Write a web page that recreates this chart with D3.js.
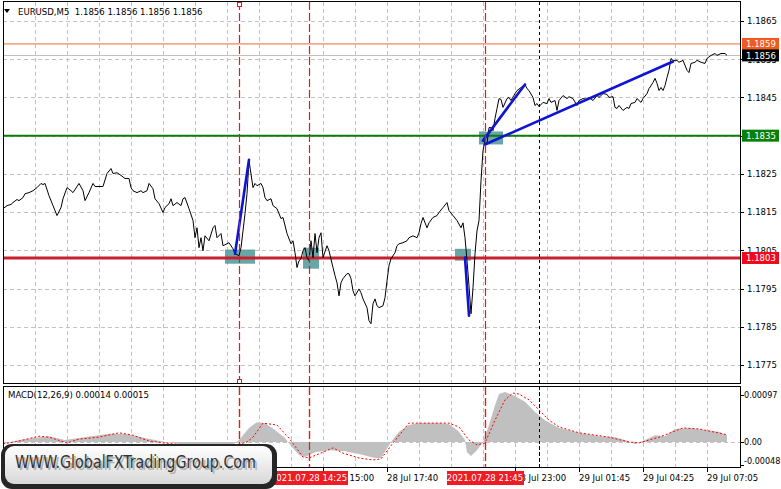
<!DOCTYPE html>
<html><head><meta charset="utf-8">
<script src="https://cdn.jsdelivr.net/npm/d3@7"></script>
<style>
body{margin:0;background:#fff}
svg{display:block}
text{font-family:"DejaVu Sans Condensed","DejaVu Sans",sans-serif}
</style>
</head><body><svg id="c" width="781" height="489"></svg>
<script>
// ---------------- DATA ----------------
const symbol = "EURUSD,M5";
const ohlc = [1.1856, 1.1856, 1.1856, 1.1856];

const priceBars = [0,2,4,5,7,8,10,11,13,15,17,19,20,21,23,25,27,29,30,32,34,35,38,40,41,43,45,46,50,52,54,55,57,59,61,63,64,65,67,69,70,72,73,75,76,78,80,81,83,84,85,87,89,90,91,93,95,96,97,98,99,100,101,103,105,106,107,109,110,113,115,116,118,119,120,121,122,123,125,126,127,129,130,131,132,134,135,137,139,140,142,144,145,146,147,148,149,150,151,152,153,154,155,156,157,158,159,160,162,163,165,166,167,168,169,170,172,173,174,175,176,178,179,180,182,183,184,185,186,187,188,190,191,192,193,194,196,197,198,200,202,203,205,207,208,209,210,212,213,215,217,218,220,222,223,225,227,229,230,231,232,233,234,235,236,237,238,239,240,241,242,243,244,245,246,247,248,249,250,252,253,254,256,257,259,261,262,263,265,266,267,268,270,272,273,274,276,277,278,280,282,283,285,287,288,290,292,293,295,297,298,300,302,303,305,306,307,308,310,312,313,314,316,317,319,320,322,323,325,326,327,328,329,330,331,332,333,334,335,337,338,340,342,343,344,346,347,349,351,352,354,356,357,359,361,362];
const priceCloses = [1.18159,1.18167,1.18170,1.18175,1.18183,1.18180,1.18188,1.18198,1.18201,1.18206,1.18214,1.18225,1.18222,1.18225,1.18193,1.18167,1.18141,1.18162,1.18185,1.18214,1.18206,1.18201,1.18225,1.18206,1.18180,1.18201,1.18225,1.18217,1.18217,1.18251,1.18264,1.18251,1.18253,1.18246,1.18238,1.18238,1.18214,1.18206,1.18201,1.18206,1.18201,1.18206,1.18225,1.18211,1.18185,1.18172,1.18149,1.18162,1.18172,1.18185,1.18167,1.18175,1.18167,1.18185,1.18188,1.18159,1.18128,1.18083,1.18109,1.18057,1.18083,1.18049,1.18088,1.18075,1.18109,1.18115,1.18083,1.18094,1.18062,1.18070,1.18054,1.18041,1.18036,1.18057,1.18101,1.18146,1.18198,1.18285,1.18214,1.18225,1.18219,1.18225,1.18214,1.18188,1.18180,1.18185,1.18167,1.18159,1.18133,1.18136,1.18094,1.18067,1.18075,1.18044,1.18005,1.18023,1.18028,1.18049,1.18057,1.18031,1.18023,1.18075,1.18031,1.18094,1.18044,1.18083,1.18096,1.18031,1.18062,1.18049,1.18005,1.17984,1.17965,1.17931,1.17965,1.17976,1.17989,1.17989,1.17976,1.17944,1.17931,1.17949,1.17939,1.17923,1.17900,1.17866,1.17858,1.17910,1.17923,1.17905,1.17900,1.17905,1.17926,1.17970,1.18010,1.18028,1.18044,1.18062,1.18067,1.18070,1.18075,1.18083,1.18088,1.18083,1.18096,1.18120,1.18136,1.18109,1.18122,1.18136,1.18141,1.18149,1.18162,1.18175,1.18154,1.18141,1.18128,1.18109,1.18122,1.18083,1.18023,1.17957,1.17884,1.17952,1.18041,1.18101,1.18128,1.18232,1.18311,1.18337,1.18329,1.18371,1.18371,1.18363,1.18395,1.18421,1.18447,1.18445,1.18424,1.18447,1.18450,1.18442,1.18460,1.18468,1.18476,1.18484,1.18473,1.18468,1.18450,1.18429,1.18434,1.18426,1.18437,1.18434,1.18447,1.18437,1.18442,1.18416,1.18442,1.18455,1.18447,1.18452,1.18447,1.18429,1.18442,1.18447,1.18445,1.18450,1.18442,1.18455,1.18450,1.18460,1.18458,1.18450,1.18452,1.18424,1.18421,1.18429,1.18416,1.18424,1.18421,1.18434,1.18437,1.18447,1.18437,1.18447,1.18460,1.18473,1.18489,1.18500,1.18487,1.18468,1.18476,1.18468,1.18481,1.18502,1.18521,1.18552,1.18547,1.18547,1.18542,1.18547,1.18521,1.18515,1.18539,1.18542,1.18547,1.18542,1.18539,1.18552,1.18560,1.18565,1.18560,1.18565,1.18565,1.18560];

const priceTicks = [1.1865,1.1855,1.1845,1.1835,1.1825,1.1815,1.1805,1.1795,1.1785,1.1775];
// time labels that are visible (the earlier ones lie under the watermark)
const timeTickBars = [160,192,256,288,320,352];
const timeTickLabels = ["28 Jul 15:00","28 Jul 17:40","28 Jul 23:00","29 Jul 01:45","29 Jul 04:25","29 Jul 07:05"];

const levelPrices = [1.1859, 1.1835, 1.1803];   // orange, green, red horizontal lines
const bidPrice = 1.1856;

const vLineBars = [118, 153, 241];
const vLabelBars = [153, 241];
const vLineLabels = ["2021.07.28 14:25","2021.07.28 21:45"];
const separatorBars = [268];

const trendStartBar = [116, 240, 241, 231];
const trendStartPrice = [1.18041, 1.18337, 1.18327, 1.18031];
const trendEndBar = [123, 261, 335, 233];
const trendEndPrice = [1.18287, 1.18484, 1.18544, 1.17879];

const boxStartBar = [111, 150, 226, 238];
const boxEndBar = [126, 158, 234, 250];
const boxHigh = [1.18052, 1.18057, 1.18054, 1.18361];
const boxLow = [1.18015, 1.18002, 1.18023, 1.18327];

const macdBars = [0,8,18,23,31,38,53,61,71,81,93,106,114,118,123,127,131,136,141,144,148,151,156,163,171,178,186,189,194,198,203,208,218,223,228,231,232,234,237,240,243,246,248,251,256,261,266,271,278,288,298,306,311,316,321,326,331,336,343,351,358,362];
const macdHist = [-0.00004,0.00004,0.0001,0.00012,0.00004,0.00008,0.00017,0.00017,0.00008,0,-0.00006,-0.0001,-0.00008,0.00004,0.00029,0.00041,0.00039,0.00025,0.00008,-0.00008,-0.00027,-0.00031,-0.00021,-0.00017,-0.00019,-0.00025,-0.00033,-0.00033,0,0.00021,0.00035,0.00039,0.00039,0.00037,0.00021,0.00004,-0.00021,-0.00029,-0.00017,0,0.00035,0.00076,0.00099,0.00103,0.00095,0.00083,0.00062,0.00045,0.00029,0.00019,0.00012,0.0001,0.00004,-0.00004,0.00004,0.00014,0.00012,0.00027,0.00029,0.00025,0.00021,0.00014];
const signalBars = [0,8,18,23,32,38,48,58,65,73,85,100,115,122,125,130,137,143,150,153,160,165,170,178,185,189,195,203,223,228,233,237,241,246,251,255,258,263,268,273,278,288,303,313,318,328,340,348,362];
const signalVals = [-0.00004,0.00002,0.00012,0.0001,-0.00002,0.00006,0.0001,0.00019,0.00014,0.00002,-0.00004,-0.00008,-0.00008,0,0.0001,0.00039,0.00035,0.00008,-0.00031,-0.00033,-0.00021,-0.00012,-0.00023,-0.00033,-0.00037,-0.00035,-0.00002,0.00039,0.00039,0.00031,0.00004,-0.00006,-0.00002,0.00045,0.00087,0.00101,0.00099,0.00087,0.00066,0.00045,0.00031,0.00019,0.0001,0,-0.00002,0.0001,0.00029,0.00027,0.00015];
const macdTicks = [0.00097, 0, -0.00048];
const macdTickLabels = ["0.00097","0.00","-0.00048"];
const macdTitle = "MACD(12,26,9) 0.00014 0.00015";
const watermark = "WWW.GlobalFXTradingGroup.Com";

// ---------------- DRAW ----------------
const svg = d3.select("#c");
const W = 781, H = 489;
const L = 3, R = 740, T = 2, B = 383, MT = 387, MB = 468;

const x = d3.scaleLinear().domain([0, 362]).range([3, 727]);
const y = d3.scaleLinear().domain([1.1775, 1.1865]).range([365, 21]);
const my = d3.scaleLinear().domain([0, 0.00097]).range([442, 395]);
const px = d => Math.round(x(d)) + 0.5;

svg.append("rect").attr("width", W).attr("height", H).attr("fill", "#fff");

const defs = svg.append("defs");
defs.append("clipPath").attr("id","cm").append("rect").attr("x",L).attr("y",T).attr("width",R-L).attr("height",B-T);
defs.append("clipPath").attr("id","cs").append("rect").attr("x",L).attr("y",MT).attr("width",R-L).attr("height",MB-MT);

const gridColor = "#c3c3c3";
const gridBars = d3.range(16, 363, 16);
const redV = "#e41a1a";
const redW = 1.2;

// main grid
const gm = svg.append("g").attr("clip-path","url(#cm)");
gm.selectAll("line.hg").data(priceTicks).join("line").attr("class","hg")
  .attr("x1", L).attr("x2", R).attr("y1", d => Math.round(y(d)) + 0.5).attr("y2", d => Math.round(y(d)) + 0.5)
  .attr("stroke", gridColor).attr("stroke-dasharray", "4,3");
gm.selectAll("line.vg").data(gridBars).join("line").attr("class","vg")
  .attr("x1", px).attr("x2", px).attr("y1", T).attr("y2", B)
  .attr("stroke", gridColor).attr("stroke-dasharray", "4,3");

// boxes
gm.selectAll("rect.box").data(boxStartBar).join("rect").attr("class","box")
  .attr("x", d => x(d)).attr("width", (d,i) => x(boxEndBar[i]) - x(d))
  .attr("y", (d,i) => y(boxHigh[i])).attr("height", (d,i) => y(boxLow[i]) - y(boxHigh[i]))
  .attr("fill", "#4f9696").attr("opacity", 0.85);

// bid line
gm.append("line").attr("x1", L).attr("x2", R).attr("y1", Math.round(y(bidPrice)) + 0.5).attr("y2", Math.round(y(bidPrice)) + 0.5)
  .attr("stroke", "#c0c0c0");

// level lines
const levelColors = ["#ee6a2a", "#0a7d0a", "#c8202e"];
const levelWidths = [1, 2, 3];
gm.selectAll("line.lv").data(levelPrices).join("line").attr("class","lv")
  .attr("x1", L).attr("x2", R).attr("y1", d => y(d)).attr("y2", d => y(d))
  .attr("stroke", (d,i) => levelColors[i]).attr("stroke-width", (d,i) => levelWidths[i]);

// vertical red lines and day separator (span both panels)
const vg = svg.append("g");
vg.selectAll("line.vr").data(vLineBars).join("line").attr("class","vr")
  .attr("x1", px).attr("x2", px).attr("y1", T).attr("y2", MB)
  .attr("stroke", redV).attr("stroke-width", redW).attr("stroke-dasharray", "8,3");
vg.selectAll("line.sep").data(separatorBars).join("line").attr("class","sep")
  .attr("x1", px).attr("x2", px).attr("y1", T).attr("y2", MB)
  .attr("stroke", "#000").attr("stroke-dasharray", "3,3");
vg.selectAll("rect.mk").data([2.5, 379.5]).join("rect").attr("class","mk")
  .attr("x", Math.round(x(vLineBars[0])) - 1.5).attr("y", d => d).attr("width", 4).attr("height", 4)
  .attr("fill", "#fff").attr("stroke", redV);

// price line
const pts = priceBars.map((b,i) => [b, priceCloses[i]]);
gm.append("path").datum(pts)
  .attr("d", d3.line().x(d => x(d[0])).y(d => y(d[1])))
  .attr("fill", "none").attr("stroke", "#000").attr("stroke-width", 1);

// trend lines
gm.selectAll("line.tr").data(trendStartBar).join("line").attr("class","tr")
  .attr("x1", d => x(d)).attr("y1", (d,i) => y(trendStartPrice[i]))
  .attr("x2", (d,i) => x(trendEndBar[i])).attr("y2", (d,i) => y(trendEndPrice[i]))
  .attr("stroke", "#0e14d2").attr("stroke-width", 2.6).attr("stroke-linecap", "round");

// main frame
svg.append("rect").attr("x", L + 0.5).attr("y", T - 0.5).attr("width", R - L).attr("height", B - T + 1)
  .attr("fill", "none").attr("stroke", "#000");

// header
svg.append("path").attr("d", "M4,9 L10,9 L7,13 Z").attr("fill", "#000");
svg.append("text").attr("x", 18).attr("y", 15).attr("font-size", 9.5).attr("fill", "#000")
  .attr("xml:space", "preserve")
  .text(symbol + "  " + ohlc.map(v => v.toFixed(4)).join(" "));

// right price axis
const ax = svg.append("g");
ax.selectAll("line.tk").data(priceTicks).join("line").attr("class","tk")
  .attr("x1", R).attr("x2", R + 4).attr("y1", d => Math.round(y(d)) + 0.5).attr("y2", d => Math.round(y(d)) + 0.5)
  .attr("stroke", "#000");
ax.selectAll("text.tk").data(priceTicks).join("text").attr("class","tk")
  .attr("x", 747).attr("y", d => y(d)).attr("dy", "0.35em").attr("font-size", 9.5).attr("fill", "#000")
  .text(d => d.toFixed(4));

// price labels
const labelVals = [levelPrices[0], bidPrice, levelPrices[1], levelPrices[2]];
const labelFill = ["#f05a1e", "#000", "#0a800a", "#ee0a1a"];
const lg = ax.selectAll("g.lab").data(labelVals).join("g").attr("class","lab");
lg.append("rect").attr("x", 742).attr("width", 37).attr("y", d => y(d) - 6).attr("height", 12)
  .attr("fill", (d,i) => labelFill[i]);
lg.append("text").attr("x", 746).attr("y", d => y(d)).attr("dy", "0.35em").attr("font-size", 9.5).attr("fill", "#fff")
  .text(d => d.toFixed(4));

// ---------- MACD panel ----------
const gs = svg.append("g").attr("clip-path", "url(#cs)");
gs.selectAll("line.vg").data(gridBars).join("line").attr("class","vg")
  .attr("x1", px).attr("x2", px).attr("y1", MT).attr("y2", MB)
  .attr("stroke", gridColor).attr("stroke-dasharray", "4,3");
gs.append("line").attr("x1", L).attr("x2", R).attr("y1", Math.round(my(0)) + 0.5).attr("y2", Math.round(my(0)) + 0.5)
  .attr("stroke", gridColor).attr("stroke-dasharray", "4,3");
const hist = macdBars.map((b,i) => [b, macdHist[i]]);
gs.append("path").datum(hist)
  .attr("d", d3.area().x(d => x(d[0])).y0(my(0)).y1(d => my(d[1])))
  .attr("fill", "#c0c0c0");
const sig = signalBars.map((b,i) => [b, signalVals[i]]);
gs.append("path").datum(sig)
  .attr("d", d3.line().x(d => x(d[0])).y(d => my(d[1])))
  .attr("fill", "none").attr("stroke", "#ff0000").attr("stroke-dasharray", "2,2");
gs.selectAll("line.vr").data(vLineBars).join("line").attr("class","vr")
  .attr("x1", px).attr("x2", px).attr("y1", MT).attr("y2", MB)
  .attr("stroke", redV).attr("stroke-width", redW).attr("stroke-dasharray", "8,3");
gs.selectAll("line.sep").data(separatorBars).join("line").attr("class","sep")
  .attr("x1", px).attr("x2", px).attr("y1", MT).attr("y2", MB)
  .attr("stroke", "#000").attr("stroke-dasharray", "3,3");

svg.append("rect").attr("x", L + 0.5).attr("y", MT - 0.5).attr("width", R - L).attr("height", MB - MT)
  .attr("fill", "none").attr("stroke", "#000");
svg.append("text").attr("x", 8).attr("y", 395).attr("dy", "0.35em").attr("font-size", 9.5).attr("fill", "#000").text(macdTitle);

const macdLabelY = [395, 442, 461];
svg.selectAll("text.mt").data(macdTickLabels).join("text").attr("class","mt")
  .attr("x", 744).attr("y", (d,i) => macdLabelY[i]).attr("dy", "0.35em").attr("font-size", 9).attr("fill", "#000")
  .text(d => d);
svg.selectAll("line.mtk").data(macdTicks).join("line").attr("class","mtk")
  .attr("x1", R).attr("x2", R + 4).attr("y1", d => Math.round(my(d)) + 0.5).attr("y2", d => Math.round(my(d)) + 0.5)
  .attr("stroke", "#000");

// time axis
svg.selectAll("line.tt").data(timeTickBars).join("line").attr("class","tt")
  .attr("x1", px).attr("x2", px).attr("y1", MB).attr("y2", MB + 4)
  .attr("stroke", "#000");
svg.selectAll("text.tt").data(timeTickBars).join("text").attr("class","tt")
  .attr("x", d => x(d)).attr("y", 478).attr("dy", "0.35em").attr("font-size", 9.5).attr("fill", "#000")
  .text((d,i) => timeTickLabels[i]);

// red time labels
const vl = svg.selectAll("g.vl").data(vLabelBars).join("g").attr("class","vl");
vl.append("rect").attr("x", d => x(d) - 38).attr("y", 471).attr("width", 77).attr("height", 14).attr("fill", "#ee1c24");
vl.append("text").attr("x", d => x(d)).attr("y", 478).attr("dy", "0.35em").attr("text-anchor", "middle")
  .attr("font-size", 9.5).attr("fill", "#fff").text((d,i) => vLineLabels[i]);

// watermark
const wg = defs.append("linearGradient").attr("id", "wg").attr("x1", 0).attr("y1", 0).attr("x2", 0).attr("y2", 1);
wg.append("stop").attr("offset", "0").attr("stop-color", "#ffffff");
wg.append("stop").attr("offset", "1").attr("stop-color", "#d8d8d8");
svg.append("rect").attr("x", 1).attr("y", 444).attr("width", 276).attr("height", 45).attr("rx", 11)
  .attr("fill", "#262626");
svg.append("rect").attr("x", 5).attr("y", 446).attr("width", 267).attr("height", 38).attr("rx", 9)
  .attr("fill", "url(#wg)");
svg.append("text").attr("x", 17).attr("y", 470).attr("font-family", "'Liberation Serif','DejaVu Serif',serif")
  .attr("font-size", 18.5).attr("fill", "#b0b0b0").attr("textLength", 241).attr("lengthAdjust", "spacingAndGlyphs")
  .text(watermark);
svg.append("text").attr("x", 15).attr("y", 468).attr("font-family", "'Liberation Serif','DejaVu Serif',serif")
  .attr("font-size", 18.5).attr("fill", "#333").attr("textLength", 241).attr("lengthAdjust", "spacingAndGlyphs")
  .text(watermark);
</script>
</body></html>
